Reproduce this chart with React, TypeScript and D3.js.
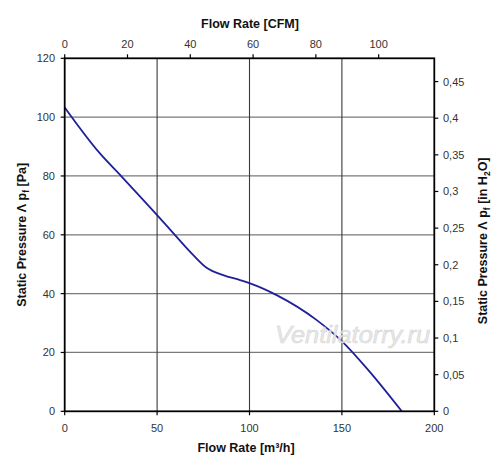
import React from "react";
import * as d3 from "d3";

const flowM3h = [0, 18.6, 30.8, 50, 59.7, 69.6, 76.8, 85.8, 94.9, 100.3, 114.7, 136.4, 150.2, 164.3, 182.4];
const pressurePa = [103.3, 88.0, 79.8, 66.7, 59.9, 53.1, 48.8, 46.3, 44.6, 43.5, 39.5, 31.0, 23.7, 14.0, 0];
const bottomTicks = [0, 50, 100, 150, 200];
const leftTicks = [0, 20, 40, 60, 80, 100, 120];
const topTicks = [0, 20, 40, 60, 80, 100];
const rightTicks = [0, 0.05, 0.1, 0.15, 0.2, 0.25, 0.3, 0.35, 0.4, 0.45];

const W = 500, H = 473;
const L = 64.7, R = 434.3, T = 58.3, B = 411.3;
const M3H_PER_CFM = 1.699;
const PA_PER_INH2O = 249.09;

export default function App() {
  const x = d3.scaleLinear().domain([0, 200]).range([L, R]);
  const y = d3.scaleLinear().domain([0, 120]).range([B, T]);
  const xTop = d3.scaleLinear().domain([0, 200 / M3H_PER_CFM]).range([L, R]);
  const yRight = d3.scaleLinear().domain([0, 120 / PA_PER_INH2O]).range([B, T]);
  const line = d3.line<number>().x((_, i) => x(flowM3h[i])).y((d) => y(d)).curve(d3.curveMonotoneX);
  const font = "Arial, 'Liberation Sans', sans-serif";
  const tickColor = "#333";
  const fmt = (v: number) => (v === 0 ? "0" : String(+v.toFixed(2)).replace(".", ","));
  return (
    <svg width={W} height={H} style={{ position: "absolute", left: 0, top: 0, background: "#fff" }} fontFamily={font}>
      <rect x={0} y={0} width={W} height={H} fill="#fff" />
      {leftTicks.slice(1, -1).map((t) => (
        <line key={"h" + t} x1={L} x2={R} y1={y(t)} y2={y(t)} stroke="#7a7a7a" strokeWidth={1.2} />
      ))}
      {bottomTicks.slice(1, -1).map((t) => (
        <line key={"v" + t} x1={x(t)} x2={x(t)} y1={T} y2={B} stroke="#3a3a3a" strokeWidth={1.1} />
      ))}
      <path d={line(pressurePa) || ""} fill="none" stroke="#20209a" strokeWidth={1.8} />
      <text x={275} y={343} textAnchor="start" fontSize={23} fontStyle="italic" textLength={155} lengthAdjust="spacingAndGlyphs" fill="#e6e6e6" stroke="#d0d0d0" strokeWidth={0.5} opacity={0.9}>
        Ventilatorry.ru
      </text>
      <rect x={L} y={T} width={R - L} height={B - T} fill="none" stroke="#000" strokeWidth={1.8} />
      {bottomTicks.map((t) => (
        <g key={"b" + t}>
          <line x1={x(t)} x2={x(t)} y1={B} y2={B + 4} stroke="#000" strokeWidth={1.2} />
          <text x={x(t)} y={432} textAnchor="middle" fontSize={11} fill={tickColor}>{t}</text>
        </g>
      ))}
      {leftTicks.map((t) => (
        <g key={"l" + t}>
          <line x1={L - 4} x2={L} y1={y(t)} y2={y(t)} stroke="#000" strokeWidth={1.2} />
          <text x={55} y={y(t) + 4} textAnchor="end" fontSize={11} fill={tickColor}>{t}</text>
        </g>
      ))}
      {topTicks.map((t) => (
        <g key={"t" + t}>
          <line x1={xTop(t)} x2={xTop(t)} y1={T - 4} y2={T} stroke="#000" strokeWidth={1.2} />
          <text x={xTop(t)} y={47.5} textAnchor="middle" fontSize={11} fill={tickColor}>{t}</text>
        </g>
      ))}
      {rightTicks.map((t) => (
        <g key={"r" + t}>
          <line x1={R} x2={R + 4} y1={yRight(t)} y2={yRight(t)} stroke="#000" strokeWidth={1.2} />
          <text x={443} y={yRight(t) + 4} textAnchor="start" fontSize={11} fill={tickColor}>{fmt(t)}</text>
        </g>
      ))}
      <text x={250} y={28} textAnchor="middle" fontSize={12.5} fontWeight="bold" fill="#111">Flow Rate [CFM]</text>
      <text x={246} y={452} textAnchor="middle" fontSize={12.5} fontWeight="bold" fill="#111">
        Flow Rate [m³/h]
      </text>
      <text transform={`translate(26,${(T + B) / 2}) rotate(-90)`} textAnchor="middle" fontSize={12.5} fontWeight="bold" fill="#111">
        Static Pressure Λ p<tspan fontSize={8.5} dy={3}>f</tspan><tspan dy={-3}> [Pa]</tspan>
      </text>
      <text transform={`translate(487,${(T + B) / 2 + 6}) rotate(-90)`} textAnchor="middle" fontSize={12.5} fontWeight="bold" fill="#111">
        Static Pressure Λ p<tspan fontSize={8.5} dy={3}>f</tspan><tspan dy={-3}> [in H</tspan><tspan fontSize={8.5} dy={3}>2</tspan><tspan dy={-3}>O]</tspan>
      </text>
    </svg>
  );
}
